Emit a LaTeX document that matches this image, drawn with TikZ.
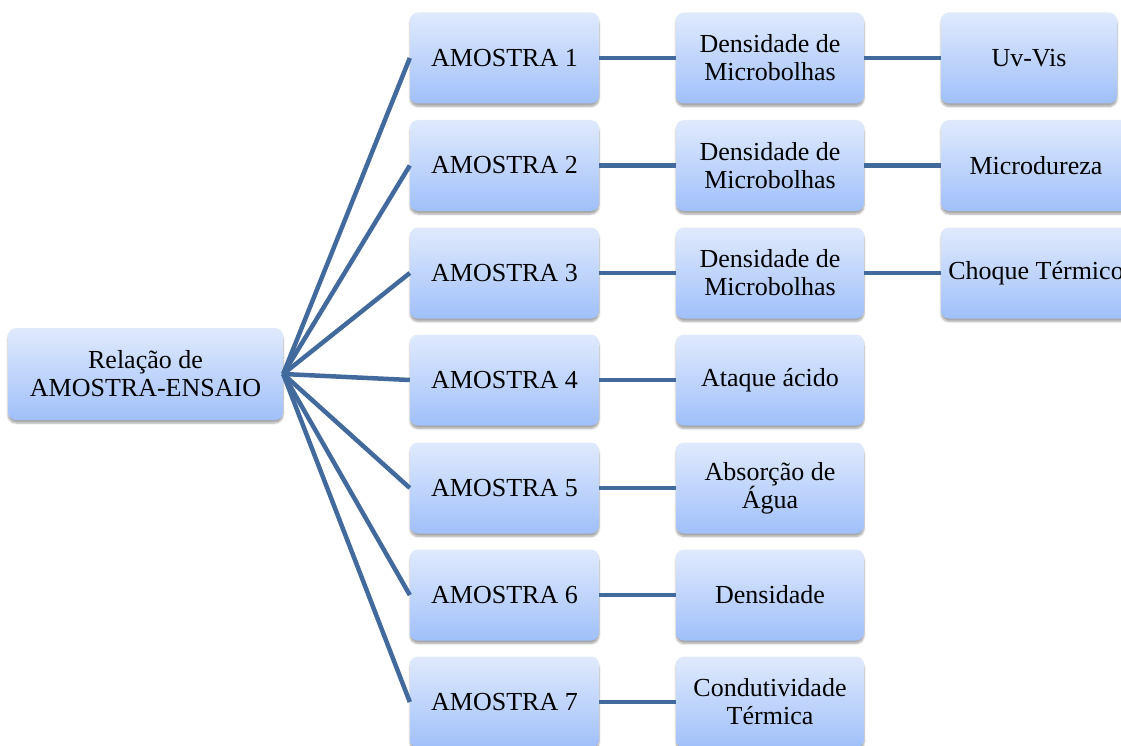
\documentclass[tikz,border=0pt]{standalone}
\usepackage{fontspec}
\setmainfont{Liberation Serif}
\usetikzlibrary{shadows.blur}
\definecolor{boxtop}{RGB}{224,234,253}
\definecolor{boxbot}{RGB}{160,192,250}
\definecolor{link}{RGB}{66,106,156}
\tikzset{
  box/.style={rectangle, rounded corners=8pt, inner sep=0pt,
    top color=boxtop, bottom color=boxbot, align=center,
    minimum height=91pt,
    font=\fontsize{26}{28}\selectfont,
    blur shadow={shadow xshift=0pt, shadow yshift=-3pt, shadow blur steps=6,
      shadow blur extra rounding=2pt, shadow opacity=35}},
  link/.style={draw=link, line width=4.5pt},
}
\begin{document}
\begin{tikzpicture}[x=1pt,y=-1pt]
\useasboundingbox (0,0) rectangle (1121,746);
% root
\node[box, minimum width=275pt, minimum height=92pt] (root) at (145.5,374) {Relação de\\AMOSTRA-ENSAIO};
% samples
\foreach \i/\y in {1/58,2/165.5,3/273,4/380,5/488,6/595,7/702}{
  \node[box, minimum width=189pt] (a\i) at (504.5,\y) {AMOSTRA \i};
}
% tests
\node[box, minimum width=188pt] (t1) at (770,58) {Densidade de\\Microbolhas};
\node[box, minimum width=188pt] (t2) at (770,165.5) {Densidade de\\Microbolhas};
\node[box, minimum width=188pt] (t3) at (770,273) {Densidade de\\Microbolhas};
\node[box, minimum width=188pt] (t4) at (770,380) {Ataque ácido};
\node[box, minimum width=188pt] (t5) at (770,488) {Absorção de\\Água};
\node[box, minimum width=188pt] (t6) at (770,595) {Densidade};
\node[box, minimum width=188pt] (t7) at (770,702) {Condutividade\\Térmica};
% analyses
\node[box, minimum width=176pt] (u1) at (1029,58) {Uv-Vis};
\node[box, minimum width=190pt] (u2) at (1036,165.5) {Microdureza};
\node[box, minimum width=190pt] (u3) at (1036,273) {Choque Térmico};
% connectors
\begin{scope}[on background layer/.try]
\foreach \i in {1,...,7}{
  \draw[link] (root.east) -- (a\i.west);
  \draw[link] (a\i.east) -- (t\i.west);
}
\foreach \i in {1,2,3}{
  \draw[link] (t\i.east) -- (u\i.west);
}
\end{scope}
\end{tikzpicture}
\end{document}
